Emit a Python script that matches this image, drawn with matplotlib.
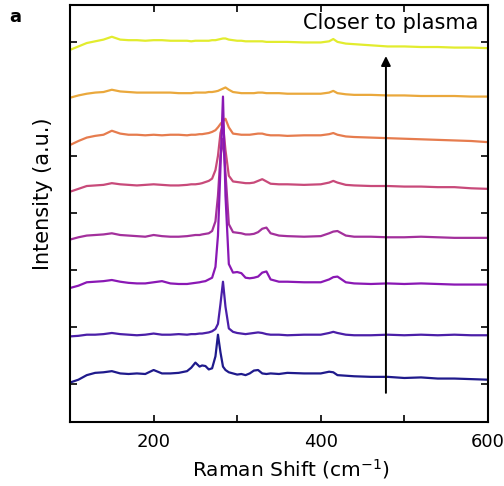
import numpy as np
import matplotlib
matplotlib.use("Agg")
import matplotlib.pyplot as plt

plt.rcParams['font.family'] = ['DejaVu Sans']

# Raman shift grid (cm^-1)
shift = [100, 110, 120, 130, 140, 150, 160, 170, 180, 190,
         200, 210, 220, 230, 240, 245, 250, 255, 258, 262,
         266, 270, 274, 277, 280, 283, 286, 290, 295, 300,
         305, 310, 315, 320, 325, 330, 335, 340, 350, 360,
         380, 400, 410, 415, 420, 430, 440, 460, 480, 500,
         520, 540, 560, 580, 600]

# stacked spectra, farthest from plasma first (a.u., already offset)
spec_1 = [1.02, 1.07, 1.15, 1.19, 1.20, 1.22, 1.18, 1.17, 1.18, 1.17,
          1.24, 1.18, 1.18, 1.19, 1.22, 1.28, 1.37, 1.30, 1.32, 1.31,
          1.25, 1.27, 1.48, 1.86, 1.55, 1.30, 1.24, 1.20, 1.18, 1.16,
          1.17, 1.15, 1.18, 1.23, 1.24, 1.18, 1.17, 1.18, 1.17, 1.19,
          1.18, 1.18, 1.21, 1.20, 1.15, 1.14, 1.13, 1.12, 1.12, 1.10,
          1.11, 1.09, 1.09, 1.08, 1.07]
spec_2 = [1.83, 1.84, 1.86, 1.86, 1.87, 1.89, 1.87, 1.86, 1.85, 1.86,
          1.88, 1.86, 1.86, 1.87, 1.86, 1.87, 1.87, 1.88, 1.88, 1.89,
          1.90, 1.92, 1.96, 2.05, 2.40, 2.79, 2.35, 1.97, 1.91, 1.89,
          1.88, 1.87, 1.88, 1.89, 1.90, 1.89, 1.87, 1.86, 1.86, 1.85,
          1.86, 1.86, 1.89, 1.91, 1.89, 1.86, 1.85, 1.85, 1.86, 1.85,
          1.86, 1.85, 1.86, 1.85, 1.85]
spec_3 = [2.68, 2.72, 2.78, 2.79, 2.80, 2.82, 2.79, 2.77, 2.76, 2.76,
          2.78, 2.80, 2.76, 2.75, 2.75, 2.76, 2.77, 2.78, 2.79, 2.80,
          2.83, 2.86, 3.05, 3.60, 4.80, 6.04, 4.30, 3.10, 2.95, 2.96,
          2.94, 2.86, 2.85, 2.86, 2.88, 2.95, 2.97, 2.83, 2.79, 2.79,
          2.78, 2.78, 2.83, 2.87, 2.88, 2.78, 2.76, 2.75, 2.76, 2.75,
          2.76, 2.75, 2.74, 2.74, 2.74]
spec_4 = [3.53, 3.57, 3.60, 3.61, 3.62, 3.64, 3.61, 3.60, 3.59, 3.58,
          3.61, 3.59, 3.58, 3.58, 3.59, 3.60, 3.61, 3.61, 3.62, 3.63,
          3.64, 3.68, 3.85, 4.30, 5.00, 5.30, 4.70, 3.80, 3.66, 3.65,
          3.64, 3.62, 3.62, 3.63, 3.66, 3.72, 3.74, 3.64, 3.60, 3.59,
          3.58, 3.59, 3.64, 3.67, 3.68, 3.60, 3.58, 3.58, 3.57, 3.57,
          3.58, 3.57, 3.56, 3.56, 3.56]
spec_5 = [4.37, 4.42, 4.47, 4.48, 4.49, 4.52, 4.50, 4.49, 4.48, 4.49,
          4.50, 4.49, 4.48, 4.48, 4.49, 4.50, 4.50, 4.51, 4.52, 4.54,
          4.56, 4.60, 4.75, 5.00, 5.40, 5.55, 5.10, 4.65, 4.55, 4.54,
          4.53, 4.52, 4.52, 4.53, 4.56, 4.59, 4.55, 4.51, 4.50, 4.50,
          4.49, 4.50, 4.53, 4.56, 4.53, 4.49, 4.48, 4.47, 4.47, 4.46,
          4.46, 4.45, 4.45, 4.43, 4.42]
spec_6 = [5.19, 5.26, 5.32, 5.35, 5.37, 5.44, 5.39, 5.37, 5.37, 5.36,
          5.37, 5.36, 5.37, 5.37, 5.36, 5.37, 5.37, 5.38, 5.38, 5.39,
          5.40, 5.42, 5.45, 5.50, 5.56, 5.61, 5.65, 5.50, 5.39, 5.38,
          5.37, 5.37, 5.37, 5.38, 5.39, 5.39, 5.37, 5.36, 5.36, 5.35,
          5.36, 5.36, 5.38, 5.40, 5.37, 5.34, 5.33, 5.32, 5.31, 5.30,
          5.29, 5.28, 5.27, 5.26, 5.24]
spec_7 = [6.02, 6.06, 6.09, 6.11, 6.12, 6.16, 6.13, 6.12, 6.11, 6.11,
          6.11, 6.11, 6.11, 6.10, 6.10, 6.10, 6.11, 6.11, 6.11, 6.11,
          6.12, 6.12, 6.13, 6.14, 6.16, 6.18, 6.20, 6.16, 6.12, 6.11,
          6.10, 6.10, 6.10, 6.10, 6.11, 6.11, 6.10, 6.10, 6.10, 6.09,
          6.09, 6.09, 6.11, 6.14, 6.10, 6.08, 6.07, 6.07, 6.06, 6.06,
          6.05, 6.05, 6.05, 6.04, 6.04]
spec_8 = [6.86, 6.92, 6.98, 7.01, 7.04, 7.09, 7.04, 7.03, 7.03, 7.02,
          7.03, 7.03, 7.02, 7.02, 7.02, 7.01, 7.02, 7.02, 7.02, 7.02,
          7.02, 7.03, 7.03, 7.04, 7.05, 7.06, 7.06, 7.04, 7.03, 7.02,
          7.02, 7.01, 7.01, 7.01, 7.01, 7.01, 7.00, 7.00, 7.00, 7.00,
          6.99, 6.99, 7.01, 7.05, 7.00, 6.97, 6.96, 6.94, 6.92, 6.92,
          6.91, 6.91, 6.90, 6.90, 6.89]

spectra = [spec_1, spec_2, spec_3, spec_4, spec_5, spec_6, spec_7, spec_8]
colors = ['#1f1a8c', '#4b1fa8', '#8a18b4', '#a3309c', '#c84a7a',
          '#e67c4e', '#eaa83c', '#e2ec2e']

x_ticks = [200, 300, 400, 500, 600]
x_tick_labels = ['200', '', '400', '', '600']
y_ticks = [1, 2, 3, 4, 5, 7]


def main():
    fig = plt.figure(figsize=(5.04, 4.86), dpi=100)
    ax = fig.add_axes([0.139, 0.132, 0.829, 0.858])

    # top traces first so the sharp low-lying peaks sit on top
    for spec, color in reversed(list(zip(spectra, colors))):
        ax.plot(shift, spec, color=color, lw=1.6)

    ax.annotate('', xy=(478, 6.80), xytext=(478, 0.79),
                arrowprops=dict(arrowstyle='-|>', color='black', lw=1.4,
                                mutation_scale=14))
    ax.text(589, 7.33, 'Closer to plasma', ha='right', va='center', fontsize=15)

    ax.set_xlim(100, 600)
    ax.set_ylim(0.33, 7.65)
    ax.set_xticks(x_ticks)
    ax.set_xticklabels(x_tick_labels)
    ax.set_yticks(y_ticks)
    ax.set_yticklabels([])
    ax.tick_params(direction='in', length=5, width=1.2, top=True, right=True,
                   labelsize=13, pad=8)
    for spine in ax.spines.values():
        spine.set_linewidth(1.5)

    ax.set_xlabel('Raman Shift (cm$^{-1}$)', fontsize=14.5)
    ax.xaxis.set_label_coords(0.529, -0.084)
    ax.set_ylabel('Intensity (a.u.)', fontsize=15)
    ax.yaxis.set_label_coords(-0.065, 0.547)
    ax.yaxis.label.set_verticalalignment('center')
    fig.text(0.018, 0.965, 'a', fontsize=13, fontweight='bold', va='center')

    fig.savefig('out.png', dpi=100)
    plt.close(fig)


if __name__ == "__main__":
    main()
